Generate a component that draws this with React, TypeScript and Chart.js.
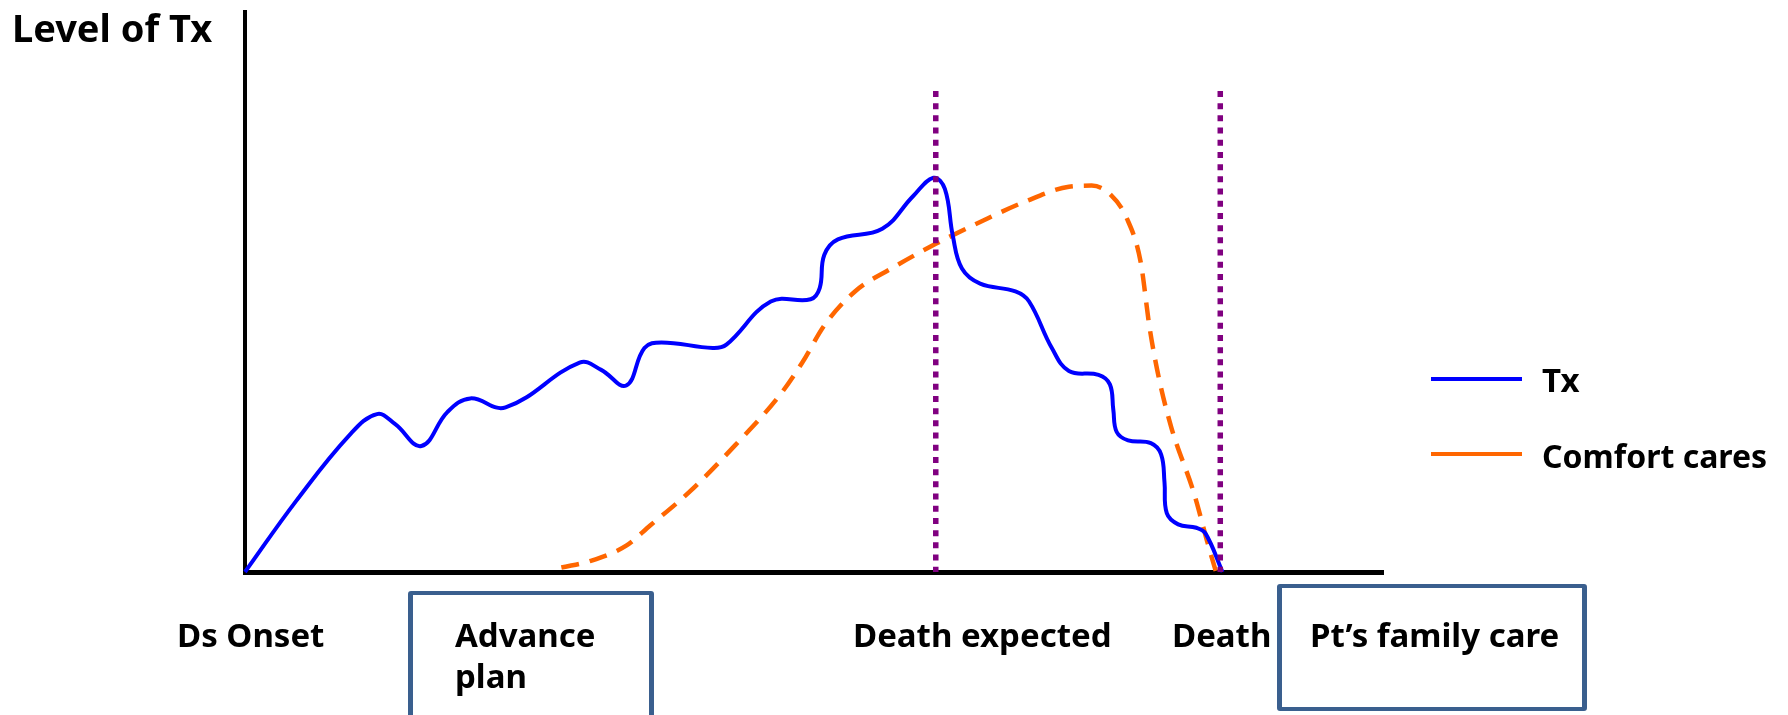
import React, { useEffect, useRef } from "react";
import { Chart, registerables } from "chart.js";

Chart.register(...registerables);

// Treatment level curve (x: time 0..100, y: level 0..100)
const txX = [0, 4.5, 9.2, 11.6, 13.2, 15.5, 17.8, 19.8, 22.9, 29.4, 31.3, 33.5, 35.1, 36.6, 41.1, 42.3, 46.2, 49.7, 50.5, 50.9, 52.1, 56.0, 58.7, 60.5, 61.5, 62.2, 63.0, 64.6, 67.7, 68.9, 70.9, 72.4, 75.0, 76.0, 76.3, 76.6, 77.6, 79.6, 80.5, 80.8, 81.0, 82.0, 83.6, 84.4, 85.9];
const txY = [0, 12.7, 24.5, 28.2, 26.4, 22.5, 28.6, 31.0, 29.4, 37.4, 36.1, 33.3, 40.0, 41.0, 40.0, 40.6, 48.3, 48.7, 50.7, 56.6, 59.4, 61.3, 67.1, 70.4, 68.4, 60.0, 54.2, 51.5, 50.1, 48.3, 40.0, 35.9, 35.2, 33.5, 29.0, 25.0, 23.5, 23.0, 21.0, 16.0, 10.5, 8.5, 7.9, 6.9, 0];

// Comfort care curve
const comfortX = [27.8, 30.4, 33.5, 35.6, 39.1, 43.1, 47.0, 49.0, 50.9, 53.6, 56.8, 60.7, 64.6, 68.5, 72.4, 74.4, 76.0, 77.5, 78.7, 79.5, 80.3, 81.4, 83.4, 84.6, 85.3];
const comfortY = [0.8, 2.0, 4.7, 8.3, 14.4, 22.7, 31.6, 37.5, 44.0, 50.1, 54.2, 58.6, 62.5, 66.1, 68.8, 69.0, 67.5, 63.1, 55.4, 43.5, 34.7, 25.8, 14.0, 5.1, 0.2];

// Vertical event markers (Death expected, Death)
const markerX = [60.7, 85.7];
const markerTop = 85.9;

const seriesNames = ["Tx", "Comfort cares"];
const yTitle = "Level of Tx";
const eventLabels = ["Ds Onset", "Death expected", "Death"];
const boxLabels = ["Advance plan", "Pt\u2019s family care"];

const FONT = "'Noto Sans', 'Open Sans', sans-serif";

function toPoints(xs: number[], ys: number[]) {
  return xs.map((x, i) => ({ x, y: ys[i] }));
}

function Label(props: { text: string; left: number; baseline: number; size: number }) {
  const { text, left, baseline, size } = props;
  return (
    <div
      style={{
        position: "absolute",
        left,
        top: baseline - 0.888 * size,
        fontFamily: FONT,
        fontWeight: 700,
        fontSize: size,
        lineHeight: `${size}px`,
        whiteSpace: "nowrap",
        color: "#000",
      }}
    >
      {text}
    </div>
  );
}

export default function App() {
  const ref = useRef<HTMLCanvasElement | null>(null);

  useEffect(() => {
    if (!ref.current) return;
    const markerSets = markerX.map((mx) => ({
      label: "marker",
      data: [
        { x: mx, y: markerTop },
        { x: mx, y: 0 },
      ],
      borderColor: "#800080",
      borderWidth: 5.5,
      borderDash: [6, 6.2],
      pointRadius: 0,
      tension: 0,
      order: 0,
      clip: false as any,
    }));
    const chart = new Chart(ref.current, {
      type: "line",
      data: {
        datasets: [
          ...markerSets,
          {
            label: seriesNames[0],
            data: toPoints(txX, txY),
            borderColor: "#0000FF",
            borderWidth: 4,
            tension: 0.4,
            pointRadius: 0,
            order: 1,
            clip: false as any,
          },
          {
            label: seriesNames[1],
            data: toPoints(comfortX, comfortY),
            borderColor: "#FF6600",
            borderWidth: 4.5,
            borderDash: [18, 11],
            cubicInterpolationMode: "monotone",
            pointRadius: 0,
            order: 2,
            clip: false as any,
          },
        ] as any,
      },
      options: {
        responsive: false,
        animation: false,
        events: [],
        layout: { padding: { left: 245, right: 405, top: 12, bottom: 143 } },
        plugins: { legend: { display: false }, tooltip: { enabled: false } },
        scales: {
          x: {
            type: "linear",
            min: 0,
            max: 100,
            grid: { display: false },
            ticks: { display: false },
            border: { display: true, color: "#000", width: 5 },
            afterFit: (s: any) => {
              s.height = 0;
            },
          },
          y: {
            type: "linear",
            min: 0,
            max: 100,
            grid: { display: false },
            ticks: { display: false },
            border: { display: true, color: "#000", width: 4 },
            afterFit: (s: any) => {
              s.width = 0;
            },
          },
        },
      } as any,
    });
    return () => chart.destroy();
  }, []);

  const boxStyle = (left: number, top: number, width: number, height: number): React.CSSProperties => ({
    position: "absolute",
    left,
    top,
    width,
    height,
    boxSizing: "border-box",
    borderStyle: "solid",
    borderColor: "#3A5F8E",
    borderWidth: "4px 5px",
    borderRadius: 3,
  });

  const [advance, plan] = ["Advance", "plan"];

  return (
    <div
      style={{
        position: "absolute",
        left: 0,
        top: 0,
        width: 1788,
        height: 715,
        overflow: "hidden",
        background: "#fff",
      }}
    >
      <canvas ref={ref} width={1788} height={715} style={{ display: "block", width: 1788, height: 715 }} />
      <Label text={yTitle} left={12} baseline={42} size={38} />
      <Label text={eventLabels[0]} left={177} baseline={647} size={33} />
      <div style={boxStyle(408, 591, 246, 140)} />
      <Label text={advance} left={455} baseline={647} size={33} />
      <Label text={plan} left={455} baseline={688} size={33} />
      <Label text={eventLabels[1]} left={853} baseline={647} size={33} />
      <Label text={eventLabels[2]} left={1172} baseline={647} size={33} />
      <div style={boxStyle(1277, 584, 310, 127)} />
      <Label text={boxLabels[1]} left={1310} baseline={647} size={33} />
      <div style={{ position: "absolute", left: 1431, top: 377, width: 91, height: 4, background: "#0000FF" }} />
      <Label text={seriesNames[0]} left={1542} baseline={392} size={33} />
      <div style={{ position: "absolute", left: 1431, top: 452, width: 91, height: 4, background: "#FF6600" }} />
      <Label text={seriesNames[1]} left={1542} baseline={468} size={32} />
    </div>
  );
}
